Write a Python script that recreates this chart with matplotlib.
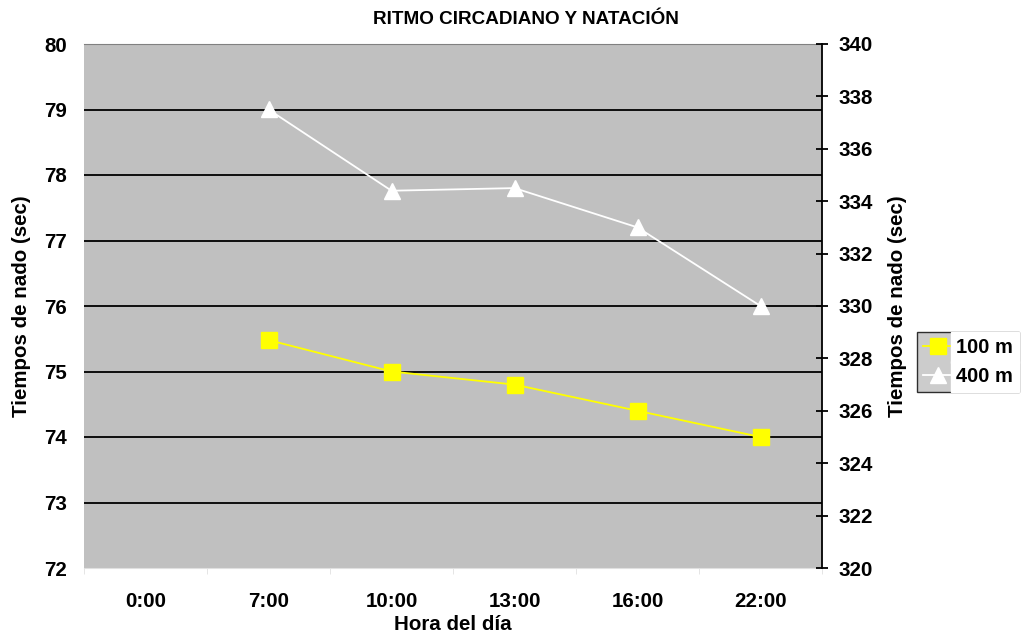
import matplotlib
matplotlib.use("Agg")
from matplotlib import pyplot as plt
from matplotlib.ticker import FixedLocator

plt.rcParams['font.family'] = ['Liberation Sans', 'DejaVu Sans']
plt.rcParams['font.weight'] = 'bold'

horas = ["0:00", "7:00", "10:00", "13:00", "16:00", "22:00"]
# 0:00 has no measurement
x_100 = [1, 2, 3, 4, 5]
t_100 = [75.48, 75.0, 74.8, 74.4, 74.0]
x_400 = [1, 2, 3, 4, 5]
t_400 = [337.5, 334.4, 334.5, 333.0, 330.0]

fig = plt.figure(figsize=(10.23, 6.38), dpi=100)
ax = fig.add_axes([84 / 1023, 1 - 568 / 638, 738 / 1023, 524 / 638])
ax2 = ax.twinx()

ax.set_facecolor('#C0C0C0')
ax.set_xlim(-0.5, 5.5)
ax.set_ylim(72, 80)
ax.set_yticks(range(72, 81))
for y in range(73, 80):
    ax.axhline(y, color='black', lw=1.3, zorder=1)

ax2.set_ylim(320, 340)
ax2.set_yticks(range(320, 341, 2))

l1, = ax.plot(x_100, t_100, color='#FFFF00', lw=1.3, marker='s', ms=12,
              mec='#FFFF00', mfc='#FFFF00', zorder=3, label='100 m')
l2, = ax2.plot(x_400, t_400, color='white', lw=1.3, marker='^', ms=12,
               mec='white', mfc='white', zorder=3, label='400 m')

fs = 14.8
ax.set_xticks(range(len(horas)))
ax.set_xticklabels(horas)
ax.xaxis.set_minor_locator(FixedLocator([i + 0.5 for i in range(-1, 6)]))
ax.tick_params(axis='x', which='major', length=0, pad=17, labelsize=fs)
ax.tick_params(axis='x', which='minor', length=4, color='#E0E0E0', direction='out')
ax.tick_params(axis='y', length=0, pad=12, labelsize=fs)
ax2.tick_params(axis='y', length=8, width=1.3, direction='inout', color='black',
                pad=8, labelsize=fs)

for s in ['left', 'right']:
    ax.spines[s].set_visible(False)
ax.spines['top'].set_color('#808080')
ax.spines['bottom'].set_color('#E0E0E0')
for s in ['left', 'top', 'bottom']:
    ax2.spines[s].set_visible(False)
ax2.spines['right'].set_color('black')
ax2.spines['right'].set_linewidth(1.3)

ax.set_ylabel("Tiempos de nado (sec)", fontsize=fs, fontweight='bold', labelpad=10)
ax2.set_ylabel("Tiempos de nado (sec)", fontsize=fs, fontweight='bold', labelpad=11)
ax.set_xlabel("Hora del día", fontsize=fs, fontweight='bold', labelpad=3)
fig.text(526 / 1023, 1 - 20 / 638, "RITMO CIRCADIANO Y NATACIÓN", ha='center',
         va='center', fontsize=13.6, fontweight='bold')

leg = fig.legend(handles=[l1, l2], loc='upper left', bbox_to_anchor=(917 / 1023, 1 - 332 / 638),
                 frameon=True, fancybox=False, facecolor='#C0C0C0', edgecolor='black',
                 fontsize=14.5, handlelength=1.45, handletextpad=0.2, borderpad=0.3,
                 labelspacing=0.5, borderaxespad=0)
leg.get_frame().set_linewidth(1.0)
for t in leg.get_texts():
    t.set_backgroundcolor('white')

plt.savefig("out.png", dpi=100)
